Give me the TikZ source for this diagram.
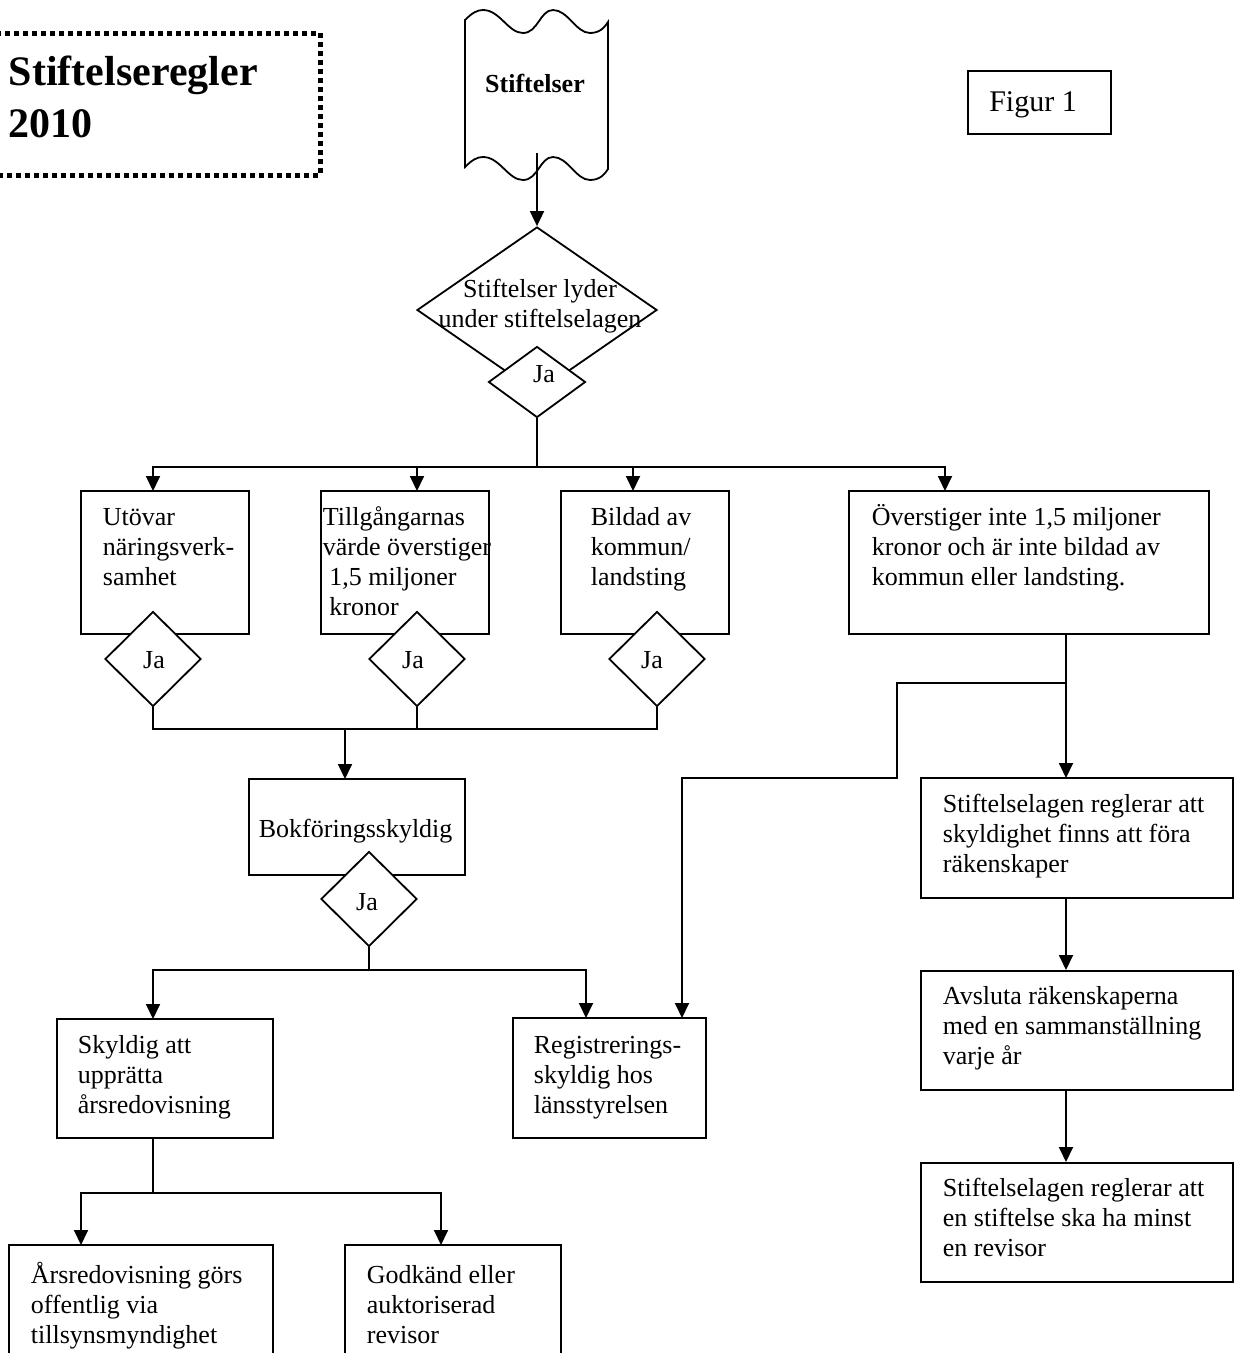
\documentclass[tikz,border=0pt]{standalone}
\usepackage{fontspec}
\setmainfont{Liberation Serif}
\usetikzlibrary{arrows.meta,shapes.geometric}
% fixed first-line height, so a text block can be placed by its first baseline
\newcommand{\lnstrut}{\rule{0pt}{25pt}}
\newcommand{\bigstrut}{\rule{0pt}{40pt}}
\begin{document}
\begin{tikzpicture}[x=1pt,y=-1pt,
  line width=1.8pt,
  arr/.style={-{Triangle[width=14pt,length=15pt]}},
  box/.style={draw, rectangle, inner sep=0pt, line width=2pt},
  decide/.style={draw, diamond, inner sep=0pt, line width=1.8pt},
  ja/.style={decide, fill=white, minimum width=96, minimum height=95},
  txt/.style={font=\fontsize{26}{30}\selectfont, inner sep=0pt, align=left, anchor=north west},
  txtc/.style={font=\fontsize{26}{30}\selectfont, inner sep=0pt, align=center, anchor=north},
  jatxt/.style={font=\fontsize{26}{30}\selectfont, inner sep=0pt, anchor=base}]
\useasboundingbox (0,0) rectangle (1237,1353);
\clip (0,0) rectangle (1237,1353);

% title frame
\node[draw, rectangle, line width=5pt, dash pattern=on 5pt off 4pt,
      minimum width=340, minimum height=142, inner sep=0pt] (titlebox) at (150,104) {};
\node[font=\fontsize{42}{52}\selectfont\bfseries, inner sep=0pt, align=left, anchor=north west]
  (titletext) at (8,45) {\bigstrut Stiftelseregler\\2010};

% figure label
\node[box, minimum width=143, minimum height=63] (fig) at (1039.5,102.5) {};
\node[font=\fontsize{30}{34}\selectfont, inner sep=0pt, anchor=base] (figtext) at (1033,111) {Figur 1};

% punched tape start symbol
\draw (465,20) .. controls (472,13) and (477,10) .. (483,10)
  .. controls (500,10) and (508,33) .. (523,33)
  .. controls (538,33) and (540,10) .. (553,10)
  .. controls (568,10) and (576,33) .. (590,33)
  .. controls (600,33) and (605,27) .. (608,22)
  -- (608,169)
  .. controls (605,174) and (600,180) .. (590,180)
  .. controls (576,180) and (568,157) .. (553,157)
  .. controls (540,157) and (538,180) .. (523,180)
  .. controls (508,180) and (500,157) .. (483,157)
  .. controls (477,157) and (472,160) .. (465,167) -- cycle;
\node[font=\fontsize{26}{30}\selectfont\bfseries, inner sep=0pt, anchor=base] (tapetext) at (535,92) {Stiftelser};
\coordinate (tapeout) at (537,153);

% main decision
\node[decide, minimum width=240, minimum height=166] (dmain) at (537,310) {};
\node[txtc] (dmaintext) at (540,272) {\lnstrut Stiftelser lyder\\under stiftelselagen};
\node[decide, fill=white, minimum width=97, minimum height=71] (jmain) at (537,382) {};
\node[jatxt] (jmaintext) at (544,382) {Ja};

% first row of conditions
\node[box, minimum width=168, minimum height=143] (b1) at (165,562.5) {};
\node[box, minimum width=168, minimum height=143] (b2) at (405,562.5) {};
\node[box, minimum width=168, minimum height=143] (b3) at (645,562.5) {};
\node[box, minimum width=360, minimum height=143] (b4) at (1029,562.5) {};
\node[txt] (b1text) at (102,500) {\lnstrut Utövar\\näringsverk-\\samhet};
\node[txt] (b2text) at (322,500) {\lnstrut Tillgångarnas\\värde överstiger\\\hspace*{6.5pt}1,5 miljoner\\\hspace*{6.5pt}kronor};
\node[txt] (b3text) at (590,500) {\lnstrut Bildad av\\kommun/\\landsting};
\node[txt] (b4text) at (871,500) {\lnstrut Överstiger inte 1,5 miljoner\\kronor och är inte bildad av\\kommun eller landsting.};

\node[ja] (j1) at (153,659) {};
\node[ja] (j2) at (417,659) {};
\node[ja] (j3) at (657,659) {};
\node[jatxt] (j1text) at (154,668) {Ja};
\node[jatxt] (j2text) at (413,668) {Ja};
\node[jatxt] (j3text) at (652,668) {Ja};

% bookkeeping
\node[box, minimum width=216, minimum height=96] (bok) at (357,827) {};
\node[txt] (boktext) at (258,812) {\lnstrut Bokföringsskyldig};
\node[ja] (jbok) at (369,899) {};
\node[jatxt] (jboktext) at (367,910) {Ja};

\node[box, minimum width=216, minimum height=119] (sky) at (165,1078.5) {};
\node[txt] (skytext) at (77,1028) {\lnstrut Skyldig att\\upprätta\\årsredovisning};
\node[box, minimum width=193, minimum height=120] (reg) at (609.5,1078) {};
\node[txt] (regtext) at (533,1028) {\lnstrut Registrerings-\\skyldig hos\\länsstyrelsen};

\node[box, minimum width=264, minimum height=175] (a1) at (141,1332.5) {};
\node[txt] (a1text) at (30,1258) {\lnstrut Årsredovisning görs\\offentlig via\\tillsynsmyndighet};
\node[box, minimum width=216, minimum height=175] (a2) at (453,1332.5) {};
\node[txt] (a2text) at (366,1258) {\lnstrut Godkänd eller\\auktoriserad\\revisor};

% right-hand column
\node[box, minimum width=312, minimum height=120] (r1) at (1077,838) {};
\node[txt] (r1text) at (942,787) {\lnstrut Stiftelselagen reglerar att\\skyldighet finns att föra\\räkenskaper};
\node[box, minimum width=312, minimum height=119] (r2) at (1077,1030.5) {};
\node[txt] (r2text) at (942,979) {\lnstrut Avsluta räkenskaperna\\med en sammanställning\\varje år};
\node[box, minimum width=312, minimum height=119] (r3) at (1077,1222.5) {};
\node[txt] (r3text) at (942,1171) {\lnstrut Stiftelselagen reglerar att\\en stiftelse ska ha minst\\en revisor};

% connector points
\coordinate (bus1) at (537,467);
\coordinate (b1in) at (153,491);
\coordinate (b2in) at (417,491);
\coordinate (b3in) at (633,491);
\coordinate (b4in) at (945,491);
\coordinate (bus2) at (345,729);
\coordinate (bokin) at (345,779);
\coordinate (bus3) at (369,970);
\coordinate (skyin) at (153,1019);
\coordinate (regin) at (586,1018);
\coordinate (skyout) at (153,1138);
\coordinate (bus4) at (153,1193);
\coordinate (a1in) at (81,1245);
\coordinate (a2in) at (441,1245);
\coordinate (b4out) at (1066,634);
\coordinate (split) at (1066,683);
\coordinate (bend1) at (897,683);
\coordinate (bend2) at (897,778);
\coordinate (bend3) at (682,778);
\coordinate (regin2) at (682,1018);
\coordinate (r1in) at (1066,778);

% connectors
\draw[arr] (tapeout) -- (dmain.north);
\draw (jmain.south) -- (bus1);
\foreach \t in {b1in,b2in,b3in,b4in} \draw[arr] (bus1) -| (\t);
\draw (j1.south) |- (bus2);
\draw (j2.south) |- (bus2);
\draw (j3.south) |- (bus2);
\draw[arr] (bus2) -- (bokin);
\draw (jbok.south) -- (bus3);
\draw[arr] (bus3) -| (skyin);
\draw[arr] (bus3) -| (regin);
\draw (skyout) -- (bus4);
\draw[arr] (bus4) -| (a1in);
\draw[arr] (bus4) -| (a2in);
\draw[arr] (b4out) -- (r1in);
\draw[arr] (split) -- (bend1) -- (bend2) -- (bend3) -- (regin2);
\draw[arr] (r1.south -| b4out) -- (r2.north -| b4out);
\draw[arr] (r2.south -| b4out) -- (r3.north -| b4out);
\end{tikzpicture}
\end{document}
